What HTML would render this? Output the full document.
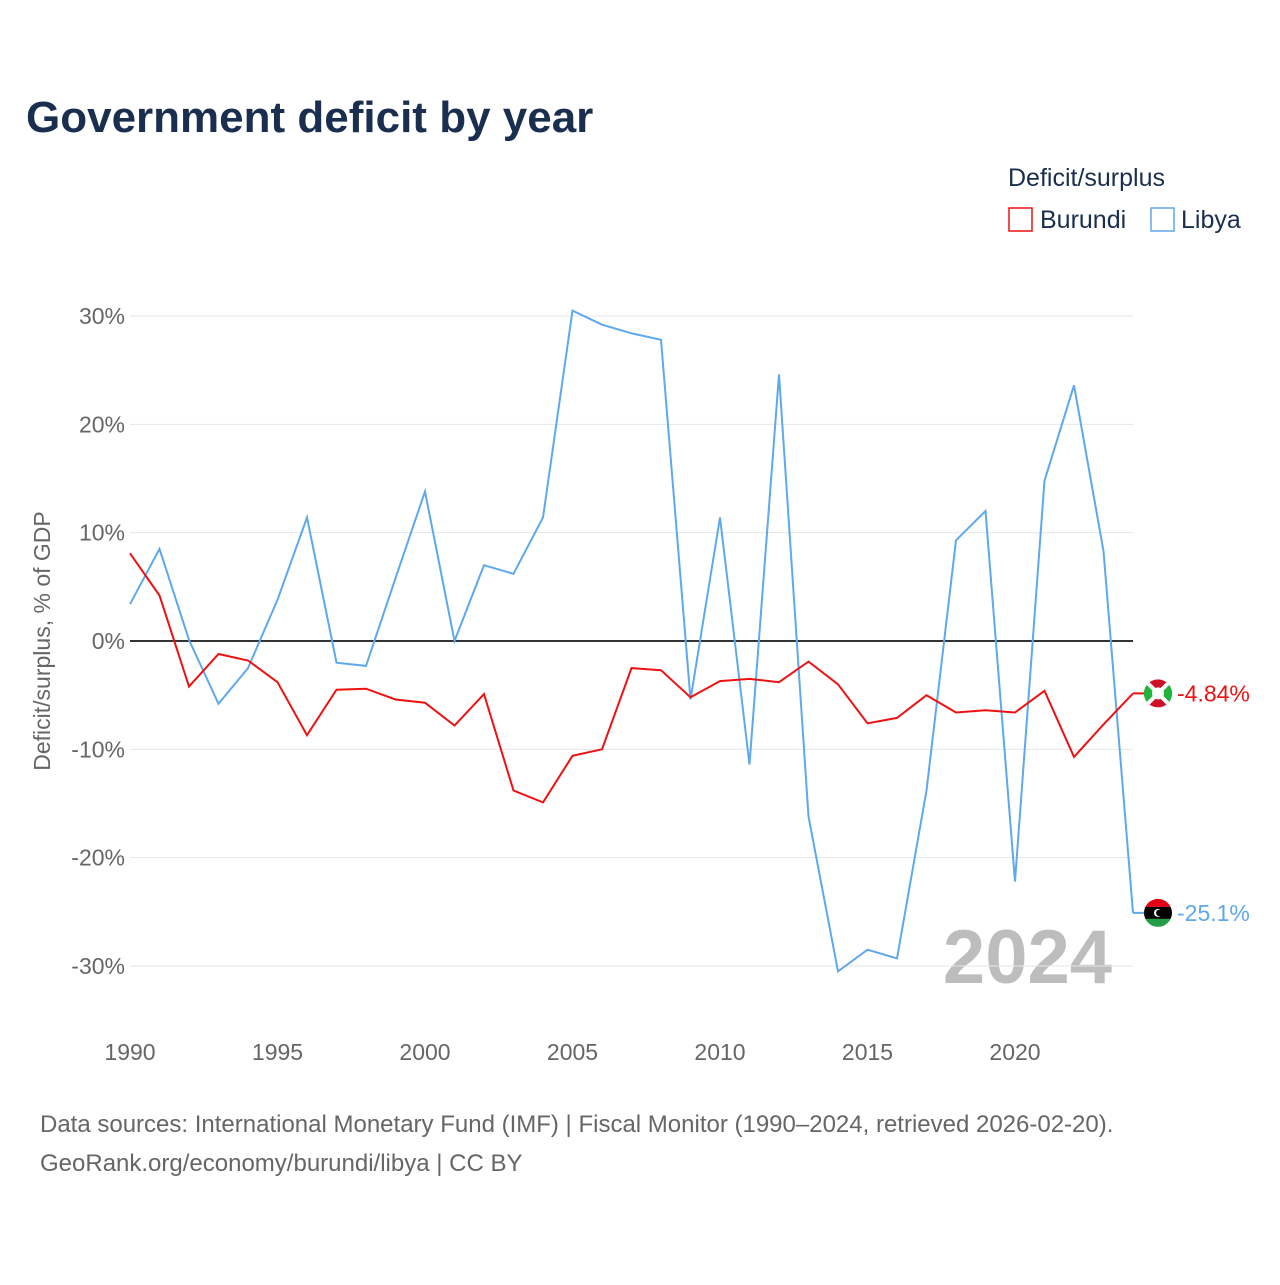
<!DOCTYPE html>
<html><head><meta charset="utf-8"><style>
body{margin:0;background:#fff;font-family:"Liberation Sans",sans-serif}
</style></head><body>
<svg id="chart" width="1280" height="1280" xmlns="http://www.w3.org/2000/svg">
<rect width="1280" height="1280" fill="#fff"/>
<text x="26" y="132" font-size="44" font-weight="bold" fill="#1a2e4f">Government deficit by year</text>
<text x="1008" y="186" font-size="25" fill="#1a2e4f">Deficit/surplus</text>
<g><rect x="1009" y="208" width="23" height="23" fill="none" stroke="#ee1111" stroke-width="1.5"/><text x="1040" y="228" font-size="25" fill="#1a2e4f">Burundi</text></g>
<g><rect x="1151" y="208" width="23" height="23" fill="none" stroke="#5ea8ec" stroke-width="1.5"/><text x="1181" y="228" font-size="25" fill="#1a2e4f">Libya</text></g>
<text transform="translate(50,641) rotate(-90)" text-anchor="middle" font-size="23" fill="#666">Deficit/surplus, % of GDP</text>
<text x="1112" y="983" text-anchor="end" font-size="76" font-weight="bold" fill="#bdbdbd">2024</text>
<defs><clipPath id="cb"><circle cx="0" cy="0" r="14"/></clipPath></defs>
<g id="grid"></g><g id="lines"></g>
<text x="40" y="1132" font-size="24" fill="#666">Data sources: International Monetary Fund (IMF) | Fiscal Monitor (1990–2024, retrieved 2026-02-20).</text>
<text x="40" y="1171" font-size="24" fill="#666">GeoRank.org/economy/burundi/libya | CC BY</text>
</svg>
<script>
const years=[1990,1991,1992,1993,1994,1995,1996,1997,1998,1999,2000,2001,2002,2003,2004,2005,2006,2007,2008,2009,2010,2011,2012,2013,2014,2015,2016,2017,2018,2019,2020,2021,2022,2023,2024];
const libya=[3.4,8.5,0.1,-5.8,-2.5,3.8,11.4,-2.0,-2.3,5.8,13.8,0,7.0,6.2,11.4,30.5,29.2,28.4,27.8,-5.4,11.4,-11.4,24.6,-16.2,-30.5,-28.5,-29.3,-13.8,9.3,12.0,-22.2,14.8,23.6,8.3,-25.1];
const burundi=[8.1,4.2,-4.2,-1.2,-1.8,-3.8,-8.7,-4.5,-4.4,-5.4,-5.7,-7.8,-4.9,-13.8,-14.9,-10.6,-10.0,-2.5,-2.7,-5.2,-3.7,-3.5,-3.8,-1.9,-4.0,-7.6,-7.1,-5.0,-6.6,-6.4,-6.6,-4.6,-10.7,-7.7,-4.84];
const yTicks=[30,20,10,0,-10,-20,-30];
const xTicks=[1990,1995,2000,2005,2010,2015,2020];
const NS="http://www.w3.org/2000/svg";
const X=y=>130+(y-1990)*(1003/34);
const Y=v=>641-v*10.833;
function el(t,a,p){const e=document.createElementNS(NS,t);for(const k in a)e.setAttribute(k,a[k]);p.appendChild(e);return e;}
const g=document.getElementById('grid'),L=document.getElementById('lines');
yTicks.forEach(t=>{
 const ln=el('line',{x1:130,x2:1133,y1:Y(t),y2:Y(t),stroke:t===0?'#333':'#e6e6e6','stroke-width':t===0?2:1},g);
 
 
 const tx=el('text',{x:125,y:Y(t)+8,'text-anchor':'end','font-size':23,fill:'#666'},g);
 tx.textContent=t+'%';
 
 
});
xTicks.forEach(t=>{
 const tx=el('text',{x:X(t),y:1060,'text-anchor':'middle','font-size':23,fill:'#666'},g);
 tx.textContent=t;
 
 
});
function series(vals,col,name,flag){
 const p=el('path',{d:vals.map((v,i)=>(i?'L':'M')+X(years[i]).toFixed(1)+','+Y(v).toFixed(1)).join(''),fill:'none',stroke:col,'stroke-width':2},L);
 
 
 const lv=vals[vals.length-1],cx=1158,cy=Y(lv);
 el('line',{x1:X(2024),x2:cx,y1:cy,y2:cy,stroke:col,'stroke-width':2},L);
 const f=el('g',{transform:`translate(${cx},${cy})`,'clip-path':'url(#cb)'},L);
 
 
 flag(f);
 const t=el('text',{x:1177,y:cy+8,'font-size':23,fill:col},L);
 t.textContent=(Math.abs(lv)<10?lv.toFixed(2):lv.toFixed(1))+'%';
 
 
}
series(libya,'#5ea8ec','libya',f=>{
 el('rect',{x:-14,y:-14,width:28,height:8,fill:'#e70013'},f);
 el('rect',{x:-14,y:-6,width:28,height:12,fill:'#000'},f);
 el('rect',{x:-14,y:6,width:28,height:8,fill:'#239e46'},f);
 el('circle',{cx:0,cy:0,r:4,fill:'#fff'},f);
 el('circle',{cx:1.3,cy:0,r:3.3,fill:'#000'},f);
});
series(burundi,'#ee1111','burundi',f=>{
 el('rect',{x:-14,y:-14,width:28,height:28,fill:'#ce1126'},f);
 el('path',{d:'M-14,-14L0,0L-14,14Z M14,-14L0,0L14,14Z',fill:'#1eb53a'},f);
 el('path',{d:'M-14,-14L14,14M14,-14L-14,14',stroke:'#fff','stroke-width':4},f);
 el('circle',{cx:0,cy:0,r:6,fill:'#fff'},f);
});
</script>
</body></html>
